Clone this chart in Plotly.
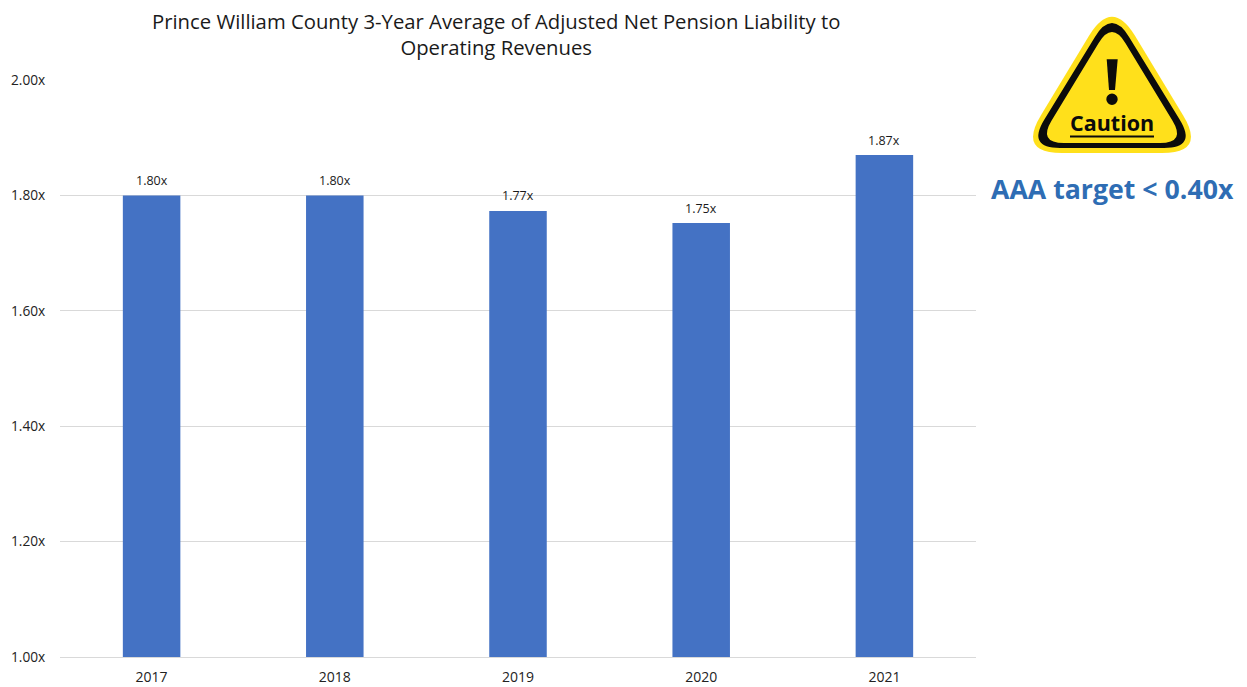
import plotly.graph_objects as go

years = ["2017", "2018", "2019", "2020", "2021"]
ratios = [1.80, 1.80, 1.773, 1.752, 1.87]
title_text = "Prince William County 3-Year Average of Adjusted Net Pension Liability to<br>Operating Revenues"
target_text = "AAA target &lt; 0.40x"
icon_text = "Caution"

OFFSET = 8  # page body margin
W, H = 1247 - OFFSET, 687 - OFFSET
L, R, T, B = 60, 976, 80, 657
FONT = "Open Sans"


def px(x):
    return (x - L) / (R - L)


def py(y):
    return (B - y) / (B - T)


def pt(x, y):
    return f"{px(x):.5f},{py(y):.5f}"


def rounded_triangle(apex, left, right, cut):
    verts = [apex, right, left]
    d = ""
    n = len(verts)
    for i, v in enumerate(verts):
        prev_v = verts[(i - 1) % n]
        next_v = verts[(i + 1) % n]

        def toward(a, b):
            dist = ((b[0] - a[0]) ** 2 + (b[1] - a[1]) ** 2) ** 0.5
            return (a[0] + (b[0] - a[0]) * cut / dist, a[1] + (b[1] - a[1]) * cut / dist)

        s = toward(v, prev_v)
        e = toward(v, next_v)
        d += ("M " if i == 0 else "L ") + pt(*s) + " "
        d += "Q " + pt(*v) + " " + pt(*e) + " "
    return d + "Z"


def solid(path, color):
    return dict(type="path", xref="paper", yref="paper", path=path,
                fillcolor=color, line=dict(width=0), layer="above")


dot = (1112, 99.3, 5.7)
shapes = [
    solid(rounded_triangle((1112, -2), (1018, 153), (1206, 153), 44), "#FFE01B"),
    solid(rounded_triangle((1112, 9), (1027, 148), (1197, 148), 33), "#0B0B0B"),
    solid(rounded_triangle((1112, 21), (1038, 143), (1186, 143), 26), "#FFE01B"),
    solid(f"M {pt(1106.7, 59.3)} L {pt(1117.7, 59.3)} L {pt(1115, 90)} L {pt(1109, 90)} Z", "#0B0B0B"),
    dict(type="circle", xref="paper", yref="paper",
         x0=px(dot[0] - dot[2]), x1=px(dot[0] + dot[2]),
         y0=py(dot[1] + dot[2]), y1=py(dot[1] - dot[2]),
         fillcolor="#0B0B0B", line=dict(width=0), layer="above"),
    dict(type="line", xref="paper", yref="paper",
         x0=px(1070), x1=px(1154), y0=py(136.5), y1=py(136.5),
         line=dict(color="#0B0B0B", width=2), layer="above"),
]

fig = go.Figure(go.Bar(
    x=years, y=ratios, width=0.314,
    marker=dict(color="#4472C4", line=dict(width=0)),
    hoverinfo="x+y",
))

annotations = [
    dict(text=title_text, xref="paper", yref="paper", x=px(496), y=py(34),
         xanchor="center", yanchor="middle", showarrow=False, align="center",
         font=dict(family=FONT, size=20.3, color="#1a1a1a")),
    dict(text=f"<b>{icon_text}</b>", xref="paper", yref="paper", x=px(1112), y=py(122.5),
         xanchor="center", yanchor="middle", showarrow=False,
         font=dict(family=FONT, size=21.5, color="#0B0B0B")),
    dict(text=f"<b>{target_text}</b>", xref="paper", yref="paper", x=px(1112.7), y=py(188.5),
         xanchor="center", yanchor="middle", showarrow=False,
         font=dict(family=FONT, size=26.7, color="#2E6DB4")),
]
for i, ratio in enumerate(ratios):
    annotations.append(dict(text=f"{ratio:.2f}x", x=i, y=ratio, yshift=15,
                            xanchor="center", yanchor="middle", showarrow=False,
                            font=dict(family=FONT, size=12.5, color="#1a1a1a")))

fig.update_layout(
    width=W, height=H, showlegend=False, autosize=False,
    paper_bgcolor="white", plot_bgcolor="white",
    margin=dict(l=L - OFFSET, r=1247 - R, t=T - OFFSET, b=687 - B, pad=0),
    font=dict(family=FONT, color="#222222"),
    shapes=shapes,
    annotations=annotations,
)
fig.update_xaxes(type="category", range=[-0.5, 4.5], automargin=False,
                 showgrid=False, showline=True, linecolor="#D9D9D9", linewidth=1,
                 ticks="outside", ticklen=7, tickcolor="rgba(0,0,0,0)",
                 tickfont=dict(family=FONT, size=14, color="#222222"))
fig.update_yaxes(range=[1.0, 2.0], tick0=1.0, dtick=0.2, tickformat=".2f", ticksuffix="x", automargin=False,
                 showgrid=True, gridcolor="#D9D9D9", gridwidth=1, zeroline=False, showline=False,
                 ticks="outside", ticklen=11, tickcolor="rgba(0,0,0,0)",
                 tickfont=dict(family=FONT, size=13.7, color="#222222"))

fig.write_html("out.html")
